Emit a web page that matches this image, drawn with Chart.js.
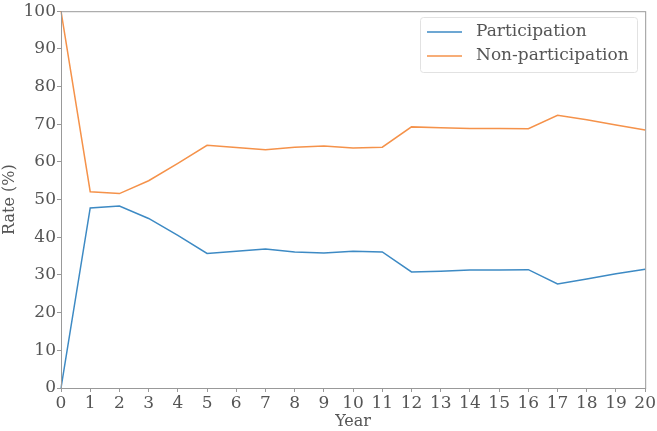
<!DOCTYPE html>
<html>
<head>
<meta charset="utf-8">
<script src="https://cdn.jsdelivr.net/npm/chart.js@4/dist/chart.umd.min.js"></script>
<style>
  html, body { margin: 0; padding: 0; background: #fff; }
  #wrap { position: relative; width: 657px; height: 431px; }
</style>
</head>
<body>
<div id="wrap"><canvas id="rate-chart"></canvas></div>
<script>
const years = [0, 1, 2, 3, 4, 5, 6, 7, 8, 9, 10, 11, 12, 13, 14, 15, 16, 17, 18, 19, 20];
const participation = [0, 47.8, 48.3, 45, 40.5, 35.7, 36.3, 36.9, 36.1, 35.8, 36.3, 36.1, 30.8, 31, 31.3, 31.3, 31.4, 27.6, 28.9, 30.3, 31.5];
const nonParticipation = [100, 52.1, 51.6, 55, 59.6, 64.4, 63.8, 63.2, 63.9, 64.2, 63.7, 63.9, 69.3, 69.1, 68.9, 68.9, 68.8, 72.4, 71.2, 69.8, 68.5];
const yTicks = [0, 10, 20, 30, 40, 50, 60, 70, 80, 90, 100];

const FONT = '"DejaVu Serif", "Liberation Serif", serif';
const TEXT = '#555';
const AXIS = '#999';

// frame around plot + boxed legend in the top right
const framePlugin = {
  id: 'frame',
  afterDraw(chart) {
    const { ctx, chartArea: a } = chart;
    ctx.save();
    ctx.strokeStyle = AXIS;
    ctx.lineWidth = 1;
    ctx.strokeRect(a.left + 0.5, a.top + 0.5, a.right - a.left, a.bottom - a.top);

    // legend
    const x0 = 420, y0 = 17, w = 217, h = 55;
    ctx.fillStyle = 'rgba(255,255,255,0.8)';
    ctx.strokeStyle = '#e2e2e2';
    ctx.beginPath();
    ctx.roundRect(x0 + 0.5, y0 + 0.5, w, h, 3);
    ctx.fill();
    ctx.stroke();
    ctx.font = '17px ' + FONT;
    ctx.textBaseline = 'middle';
    chart.data.datasets.forEach((ds, i) => {
      const y = y0 + 15 + i * 24;
      ctx.strokeStyle = ds.borderColor;
      ctx.lineWidth = 1.5;
      ctx.beginPath();
      ctx.moveTo(x0 + 7, y);
      ctx.lineTo(x0 + 42, y);
      ctx.stroke();
      ctx.fillStyle = TEXT;
      ctx.fillText(ds.label, x0 + 56, y);
    });
    ctx.restore();
  }
};

new Chart(document.getElementById('rate-chart'), {
  type: 'line',
  data: {
    labels: years,
    datasets: [
      {
        label: 'Participation',
        data: participation,
        borderColor: '#3d8ac4',
        borderWidth: 1.5,
        pointRadius: 0,
        tension: 0
      },
      {
        label: 'Non-participation',
        data: nonParticipation,
        borderColor: '#f5924a',
        borderWidth: 1.5,
        pointRadius: 0,
        tension: 0
      }
    ]
  },
  options: {
    responsive: true,
    maintainAspectRatio: false,
    animation: false,
    layout: { padding: { left: 0, top: 10, right: 11, bottom: 0 } },
    plugins: {
      legend: { display: false },
      tooltip: { enabled: false }
    },
    scales: {
      x: {
        offset: false,
        grid: { display: true, drawOnChartArea: false, drawTicks: true, tickLength: 4, color: AXIS },
        border: { color: AXIS },
        ticks: { color: TEXT, font: { family: FONT, size: 17 }, padding: 1, maxRotation: 0, autoSkip: false },
        title: { display: true, text: 'Year', color: TEXT, font: { family: FONT, size: 16 }, padding: { top: 0, bottom: 0 } },
        afterFit: (scale) => { scale.height = 43; }
      },
      y: {
        min: 0,
        max: 100,
        afterBuildTicks: (scale) => { scale.ticks = yTicks.map(v => ({ value: v })); },
        grid: { display: true, drawOnChartArea: false, drawTicks: true, tickLength: 4, color: AXIS },
        border: { color: AXIS },
        ticks: { color: TEXT, font: { family: FONT, size: 17 }, padding: 1 },
        title: { display: true, text: 'Rate (%)', color: TEXT, font: { family: FONT, size: 16 }, padding: { top: 0, bottom: 4 } },
        afterFit: (scale) => { scale.width = 61; }
      }
    }
  },
  plugins: [framePlugin]
});
</script>
</body>
</html>
